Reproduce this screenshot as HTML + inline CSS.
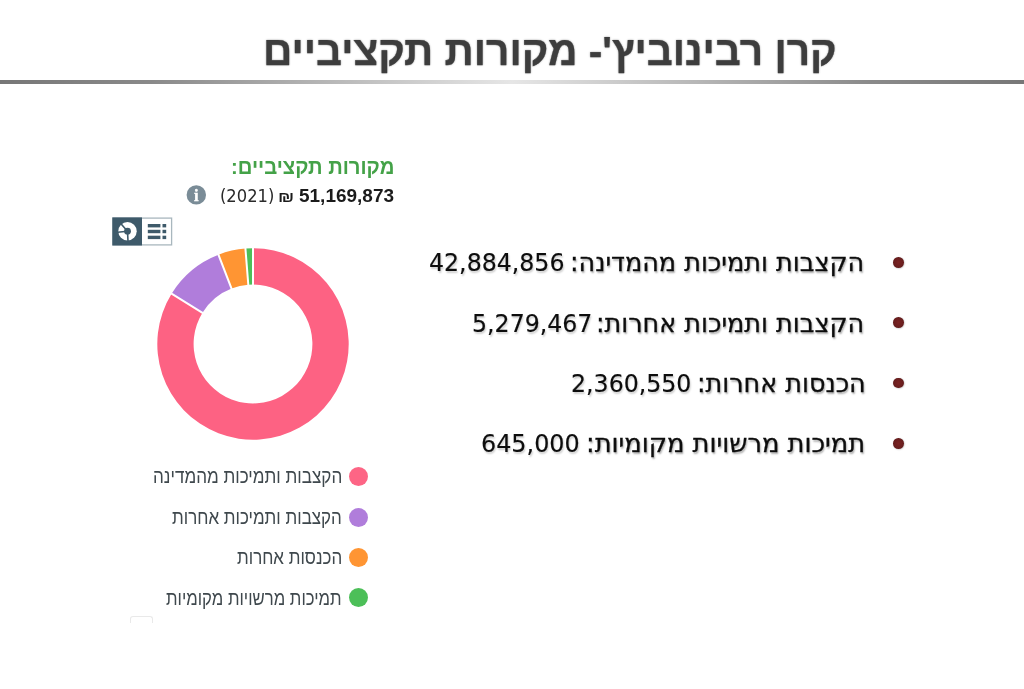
<!DOCTYPE html>
<html lang="he">
<head>
<meta charset="utf-8">
<title>קרן רבינוביץ' - מקורות תקציביים</title>
<style>
html,body{margin:0;padding:0;background:#fff;}
body{width:1024px;height:689px;position:relative;overflow:hidden;font-family:"Liberation Sans","DejaVu Sans",sans-serif;}
.abs{position:absolute;white-space:nowrap;line-height:1;}
.rtl{direction:rtl;unicode-bidi:embed;}
#rule{left:0;top:80.2px;width:1024px;height:4.2px;background:linear-gradient(to right,#777 0%,#8a8a8a 15%,#e6e6e6 50%,#8a8a8a 85%,#777 100%);filter:blur(.5px);}
.dot{position:absolute;left:349px;width:19px;height:19px;border-radius:50%;}
.bul{position:absolute;left:893px;width:10.6px;height:10.6px;border-radius:50%;background:radial-gradient(circle at 50% 50%,#7a2222 0%,#6a1e1e 55%,#521a1a 100%);box-shadow:.5px .5px 1.5px rgba(0,0,0,.25);}
</style>
</head>
<body>
<div id="title" class="abs rtl" style="left:263.49px;top:31.02px;font-family:'Liberation Sans','DejaVu Sans',sans-serif;font-weight:bold;font-size:40.5px;color:#3d3d3d;transform:scaleX(1.0044);transform-origin:0 0;text-shadow:0 0 2px rgba(0,0,0,.45);-webkit-text-stroke:.25px #3d3d3d;">קרן רבינוביץ'- מקורות תקציביים</div>
<div id="h2" class="abs rtl" style="left:230.78px;top:156.21px;font-family:'Liberation Sans','DejaVu Sans',sans-serif;font-weight:bold;font-size:21.08px;color:#44a248;transform:scaleX(0.9611);transform-origin:0 0;">מקורות תקציביים:</div>
<div id="total" class="abs" style="left:299.30px;top:186.86px;font-family:'Liberation Sans','DejaVu Sans',sans-serif;font-weight:bold;font-size:18.71px;color:#1b1b1b;transform:scaleX(1.0161);transform-origin:0 0;">51,169,873</div>
<div id="shek" class="abs" style="left:278.48px;top:189.10px;font-family:'Liberation Sans','DejaVu Sans',sans-serif;font-weight:bold;font-size:15.0px;color:#1b1b1b;transform:scaleX(1.2182);transform-origin:0 0;">₪</div>
<div id="year" class="abs" style="left:219.66px;top:187.77px;font-family:'DejaVu Sans','Liberation Sans',sans-serif;font-weight:normal;font-size:17.4px;color:#2a2a2a;transform:scaleX(0.9393);transform-origin:0 0;">(2021)</div>
<div id="l1" class="abs rtl" style="left:153.14px;top:467.31px;font-family:'Liberation Sans','DejaVu Sans',sans-serif;font-weight:normal;font-size:19.83px;color:#3f484d;transform:scaleX(0.8622);transform-origin:0 0;">הקצבות ותמיכות מהמדינה</div>
<div id="l2" class="abs rtl" style="left:172.30px;top:507.81px;font-family:'Liberation Sans','DejaVu Sans',sans-serif;font-weight:normal;font-size:19.83px;color:#3f484d;transform:scaleX(0.8569);transform-origin:0 0;">הקצבות ותמיכות אחרות</div>
<div id="l3" class="abs rtl" style="left:236.70px;top:548.31px;font-family:'Liberation Sans','DejaVu Sans',sans-serif;font-weight:normal;font-size:19.83px;color:#3f484d;transform:scaleX(0.8557);transform-origin:0 0;">הכנסות אחרות</div>
<div id="l4" class="abs rtl" style="left:166.40px;top:588.81px;font-family:'Liberation Sans','DejaVu Sans',sans-serif;font-weight:normal;font-size:19.83px;color:#3f484d;transform:scaleX(0.8440);transform-origin:0 0;">תמיכות מרשויות מקומיות</div>
<div id="r1" class="abs rtl" style="left:570.41px;top:249.43px;font-family:'DejaVu Sans','Liberation Sans',sans-serif;font-weight:normal;font-size:26.43px;color:#0d0d0d;transform:scaleX(0.9628);transform-origin:0 0;text-shadow:1px 1.5px 2px rgba(0,0,0,.34);-webkit-text-stroke:.3px #0d0d0d;">הקצבות ותמיכות מהמדינה:</div>
<div id="n1" class="abs" style="left:428.83px;top:251.34px;font-family:'DejaVu Sans','Liberation Sans',sans-serif;font-weight:normal;font-size:24.52px;color:#0d0d0d;transform:scaleX(0.9652);transform-origin:0 0;text-shadow:1px 1.5px 2px rgba(0,0,0,.2);-webkit-text-stroke:.15px #0d0d0d;">42,884,856</div>
<div id="r2" class="abs rtl" style="left:596.41px;top:309.73px;font-family:'DejaVu Sans','Liberation Sans',sans-serif;font-weight:normal;font-size:26.43px;color:#0d0d0d;transform:scaleX(0.9628);transform-origin:0 0;text-shadow:1px 1.5px 2px rgba(0,0,0,.34);-webkit-text-stroke:.3px #0d0d0d;">הקצבות ותמיכות אחרות:</div>
<div id="n2" class="abs" style="left:471.63px;top:311.64px;font-family:'DejaVu Sans','Liberation Sans',sans-serif;font-weight:normal;font-size:24.52px;color:#0d0d0d;transform:scaleX(0.9652);transform-origin:0 0;text-shadow:1px 1.5px 2px rgba(0,0,0,.2);-webkit-text-stroke:.15px #0d0d0d;">5,279,467</div>
<div id="r3" class="abs rtl" style="left:696.54px;top:370.03px;font-family:'DejaVu Sans','Liberation Sans',sans-serif;font-weight:normal;font-size:26.43px;color:#0d0d0d;transform:scaleX(0.9628);transform-origin:0 0;text-shadow:1px 1.5px 2px rgba(0,0,0,.34);-webkit-text-stroke:.3px #0d0d0d;">הכנסות אחרות:</div>
<div id="n3" class="abs" style="left:571.43px;top:371.94px;font-family:'DejaVu Sans','Liberation Sans',sans-serif;font-weight:normal;font-size:24.52px;color:#0d0d0d;transform:scaleX(0.9652);transform-origin:0 0;text-shadow:1px 1.5px 2px rgba(0,0,0,.2);-webkit-text-stroke:.15px #0d0d0d;">2,360,550</div>
<div id="r4" class="abs rtl" style="left:585.98px;top:430.43px;font-family:'DejaVu Sans','Liberation Sans',sans-serif;font-weight:normal;font-size:26.43px;color:#0d0d0d;transform:scaleX(0.9723);transform-origin:0 0;text-shadow:1px 1.5px 2px rgba(0,0,0,.34);-webkit-text-stroke:.3px #0d0d0d;">תמיכות מרשויות מקומיות:</div>
<div id="n4" class="abs" style="left:480.73px;top:432.34px;font-family:'DejaVu Sans','Liberation Sans',sans-serif;font-weight:normal;font-size:24.52px;color:#0d0d0d;transform:scaleX(0.9737);transform-origin:0 0;text-shadow:1px 1.5px 2px rgba(0,0,0,.2);-webkit-text-stroke:.15px #0d0d0d;">645,000</div>
<div id="rule" class="abs"></div>


<svg class="abs" style="left:186px;top:185px" width="21" height="21" viewBox="0 0 21 21">
<circle cx="10.3" cy="9.9" r="9.7" fill="#7a8c97"/>
<text x="10.3" y="15.6" font-family="'Liberation Serif','DejaVu Serif',serif" font-size="16.5" font-weight="bold" fill="#fff" stroke="#fff" stroke-width=".4" text-anchor="middle">i</text>
</svg>

<svg class="abs" style="left:112px;top:217px" width="61" height="29" viewBox="0 0 61 29">
<rect x="1" y="1.1" width="58.6" height="26.8" fill="#fff" stroke="#a9b7be" stroke-width="1.3"/>
<rect x="0.3" y="0.4" width="29.7" height="28.1" fill="#3e5a6a"/>
<circle cx="15.5" cy="14.2" r="9.2" fill="#fff"/>
<circle cx="15.5" cy="14.2" r="3.4" fill="#3e5a6a"/>
<path d="M15.5 14.2 L8.5 6.2 M15.5 14.2 L5.5 15.2 M15.5 14.2 L16 24.2" stroke="#3e5a6a" stroke-width="1.6" fill="none"/>
<g fill="#3e5a6a">
<rect x="35.8" y="7" width="12.6" height="3.4"/><rect x="50.5" y="7" width="3.7" height="3.4"/>
<rect x="35.8" y="12.8" width="12.6" height="3.4"/><rect x="50.5" y="12.8" width="3.7" height="3.4"/>
<rect x="35.8" y="18.7" width="12.6" height="3.4"/><rect x="50.5" y="18.7" width="3.7" height="3.4"/>
</g>
</svg>

<svg id="donut" class="abs" style="left:153.3px;top:243.6px" width="200" height="200" viewBox="-100 -100 200 200">
<path d="M0.00 -95.70A95.7 95.7 0 1 1 -81.41 -50.30L-50.53 -31.22A59.4 59.4 0 1 0 0.00 -59.40Z" fill="#fd6283"/>
<path d="M-81.41 -50.30A95.7 95.7 0 0 1 -34.52 -89.26L-21.43 -55.40A59.4 59.4 0 0 0 -50.53 -31.22Z" fill="#b07ddb"/>
<path d="M-34.52 -89.26A95.7 95.7 0 0 1 -7.57 -95.40L-4.70 -59.21A59.4 59.4 0 0 0 -21.43 -55.40Z" fill="#ff9533"/>
<path d="M-7.57 -95.40A95.7 95.7 0 0 1 -0.00 -95.70L-0.00 -59.40A59.4 59.4 0 0 0 -4.70 -59.21Z" fill="#4cbf58"/>
<path d="M0.00 -96.70L0.00 -58.40M-82.26 -50.83L-49.68 -30.70M-34.88 -90.19L-21.07 -54.47M-7.65 -96.40L-4.62 -58.22" stroke="#fff" stroke-width="2" fill="none"/>
</svg>

<div class="dot" style="top:467px;background:#fd6585"></div>
<div class="dot" style="top:508px;background:#b07ddb"></div>
<div class="dot" style="top:548px;background:#ff9533"></div>
<div class="dot" style="top:588px;background:#4cbf58"></div>

<div class="bul" style="top:257px"></div>
<div class="bul" style="top:317.4px"></div>
<div class="bul" style="top:377.7px"></div>
<div class="bul" style="top:438.1px"></div>

<div class="abs" style="left:130px;top:616px;width:21px;height:6px;border:1px solid #e9e9e9;border-bottom:none;border-radius:3px 3px 0 0;"></div>
</body>
</html>
